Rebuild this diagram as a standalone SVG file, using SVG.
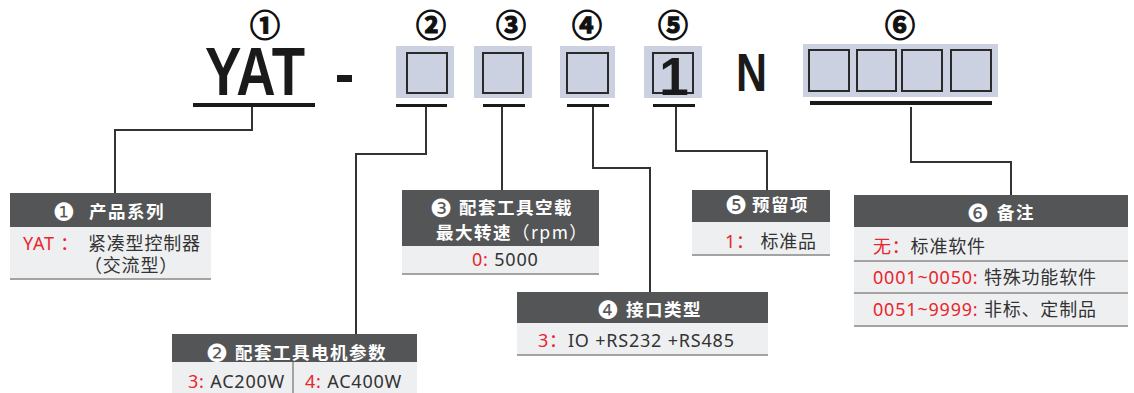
<svg xmlns="http://www.w3.org/2000/svg" width="1134" height="393" viewBox="0 0 1134 393">
<style>
.cn{font-family:"Noto Sans CJK SC",sans-serif;font-size:30px;font-weight:bold;fill:#111;stroke:#111;stroke-width:1.2px;text-anchor:middle}
.big{font-family:"Liberation Sans",Arial,sans-serif;font-weight:bold;fill:#1a1a1a}
.bg{fill:#cbd1e0}
.sq{fill:#cbd1e0;stroke:#2a2a2a;stroke-width:2}
.ul{fill:#1a1a1a}
.hd{fill:#545557}
.bd{fill:#eeeff1}
.bl{stroke:#a3a3a3;stroke-width:2}
.ic{font-family:"DejaVu Sans",sans-serif;font-size:25px;fill:#fff;text-anchor:middle}
.ht{font-family:"Noto Sans CJK SC",sans-serif;font-size:17.5px;font-weight:bold;fill:#fff;letter-spacing:1.5px}
.tx{font-family:"Noto Sans","Noto Sans CJK SC",sans-serif;font-size:18px;fill:#333;letter-spacing:0.8px}
.r{fill:#e8262c}
.con{fill:none;stroke:#333;stroke-width:2}
</style>
<g id="code">
<text class="cn" x="265" y="36">①</text>
<text class="cn" x="431" y="36">②</text>
<text class="cn" x="511" y="36">③</text>
<text class="cn" x="587" y="36">④</text>
<text class="cn" x="673" y="36">⑤</text>
<text class="cn" x="900" y="36">⑥</text>
<text class="big" x="205" y="95" font-size="68" textLength="100" lengthAdjust="spacingAndGlyphs">YAT</text>
<rect x="337" y="75" width="15" height="7" fill="#1a1a1a"/>
<rect class="bg" x="396" y="46" width="58" height="52"/>
<rect class="sq" x="407" y="53" width="40" height="40"/>
<rect class="bg" x="474" y="46" width="58" height="52"/>
<rect class="sq" x="483" y="53" width="40" height="40"/>
<rect class="bg" x="560" y="46" width="55" height="52"/>
<rect class="sq" x="567" y="53" width="41" height="40"/>
<rect class="bg" x="644" y="46" width="58" height="52"/>
<rect class="sq" x="653" y="53" width="40" height="40"/>
<text class="big" x="674" y="95" font-size="53" text-anchor="middle">1</text>
<text class="big" x="736" y="91" font-size="53" textLength="31" lengthAdjust="spacingAndGlyphs">N</text>
<rect class="bg" x="803" y="44" width="195" height="53"/>
<rect class="sq" x="809" y="50" width="40" height="41"/>
<rect class="sq" x="857" y="50" width="39" height="41"/>
<rect class="sq" x="902" y="50" width="40" height="41"/>
<rect class="sq" x="951" y="50" width="40" height="41"/>
<rect class="ul" x="193" y="103" width="122" height="4"/>
<rect class="ul" x="396" y="104" width="51" height="3"/>
<rect class="ul" x="483" y="104" width="42" height="3"/>
<rect class="ul" x="567" y="104" width="42" height="3"/>
<rect class="ul" x="653" y="104" width="42" height="3"/>
<rect class="ul" x="810" y="101" width="182" height="4"/>
</g>
<g id="connectors">
<path class="con" d="M252,107 V130 H115 V194"/>
<path class="con" d="M426,107 V154 H356 V334"/>
<path class="con" d="M502,107 V190"/>
<path class="con" d="M593,107 V168 H650 V292"/>
<path class="con" d="M676,107 V151 H767 V190"/>
<path class="con" d="M911,107 V162 H1011 V196"/>
</g>
<g id="box1">
<rect class="hd" x="10" y="193" width="201" height="34"/>
<rect class="bd" x="10" y="227" width="201" height="52"/>
<line class="bl" x1="10" y1="279" x2="211" y2="279"/>
<text class="ic" x="64" y="220.5">❶</text>
<text class="ht" x="89" y="218">产品系列</text>
<text class="tx" x="23" y="250"><tspan class="r">YAT ：</tspan><tspan x="88">紧凑型控制器</tspan></text>
<text class="tx" x="84" y="272">（交流型）</text>
</g>
<g id="box2">
<rect class="hd" x="172" y="334" width="245" height="28"/>
<rect class="bd" x="172" y="362" width="245" height="31"/>
<line class="bl" x1="293" y1="362" x2="293" y2="393"/>
<text class="ic" x="217" y="361.5">❷</text>
<text class="ht" x="235" y="359">配套工具电机参数</text>
<text class="tx" x="188" y="388"><tspan class="r">3: </tspan>AC200W</text>
<text class="tx" x="305" y="388"><tspan class="r">4: </tspan>AC400W</text>
</g>
<g id="box3">
<rect class="hd" x="402" y="190" width="197" height="56"/>
<rect class="bd" x="402" y="246" width="197" height="28"/>
<line class="bl" x1="402" y1="274" x2="599" y2="274"/>
<text class="ic" x="441" y="216.5">❸</text>
<text class="ht" x="459" y="214">配套工具空载</text>
<text class="ht" x="436" y="239">最大转速<tspan font-weight="normal">（rpm）</tspan></text>
<text class="tx" x="472" y="266"><tspan class="r">0: </tspan>5000</text>
</g>
<g id="box4">
<rect class="hd" x="517" y="292" width="251" height="31"/>
<rect class="bd" x="517" y="323" width="251" height="32"/>
<line class="bl" x1="517" y1="355" x2="768" y2="355"/>
<text class="ic" x="608" y="318.5">❹</text>
<text class="ht" x="626" y="316">接口类型</text>
<text class="tx" x="538" y="347"><tspan class="r">3：</tspan>IO +RS232 +RS485</text>
</g>
<g id="box5">
<rect class="hd" x="692" y="190" width="138" height="32"/>
<rect class="bd" x="692" y="222" width="138" height="33"/>
<line class="bl" x1="692" y1="255" x2="830" y2="255"/>
<text class="ic" x="736" y="213.5">❺</text>
<text class="ht" x="752" y="211">预留项</text>
<text class="tx" x="725" y="248"><tspan class="r">1： </tspan>标准品</text>
</g>
<g id="box6">
<rect class="hd" x="854" y="195" width="274" height="32"/>
<rect class="bd" x="854" y="227" width="274" height="99"/>
<line class="bl" x1="854" y1="261" x2="1128" y2="261"/>
<line class="bl" x1="854" y1="293" x2="1128" y2="293"/>
<line class="bl" x1="854" y1="326" x2="1128" y2="326"/>
<text class="ic" x="978" y="221.5">❻</text>
<text class="ht" x="997" y="219">备注</text>
<text class="tx" x="873" y="253"><tspan class="r">无：</tspan>标准软件</text>
<text class="tx" x="873" y="284"><tspan class="r">0001~0050: </tspan>特殊功能软件</text>
<text class="tx" x="873" y="316"><tspan class="r">0051~9999: </tspan>非标、定制品</text>
</g>
</svg>
